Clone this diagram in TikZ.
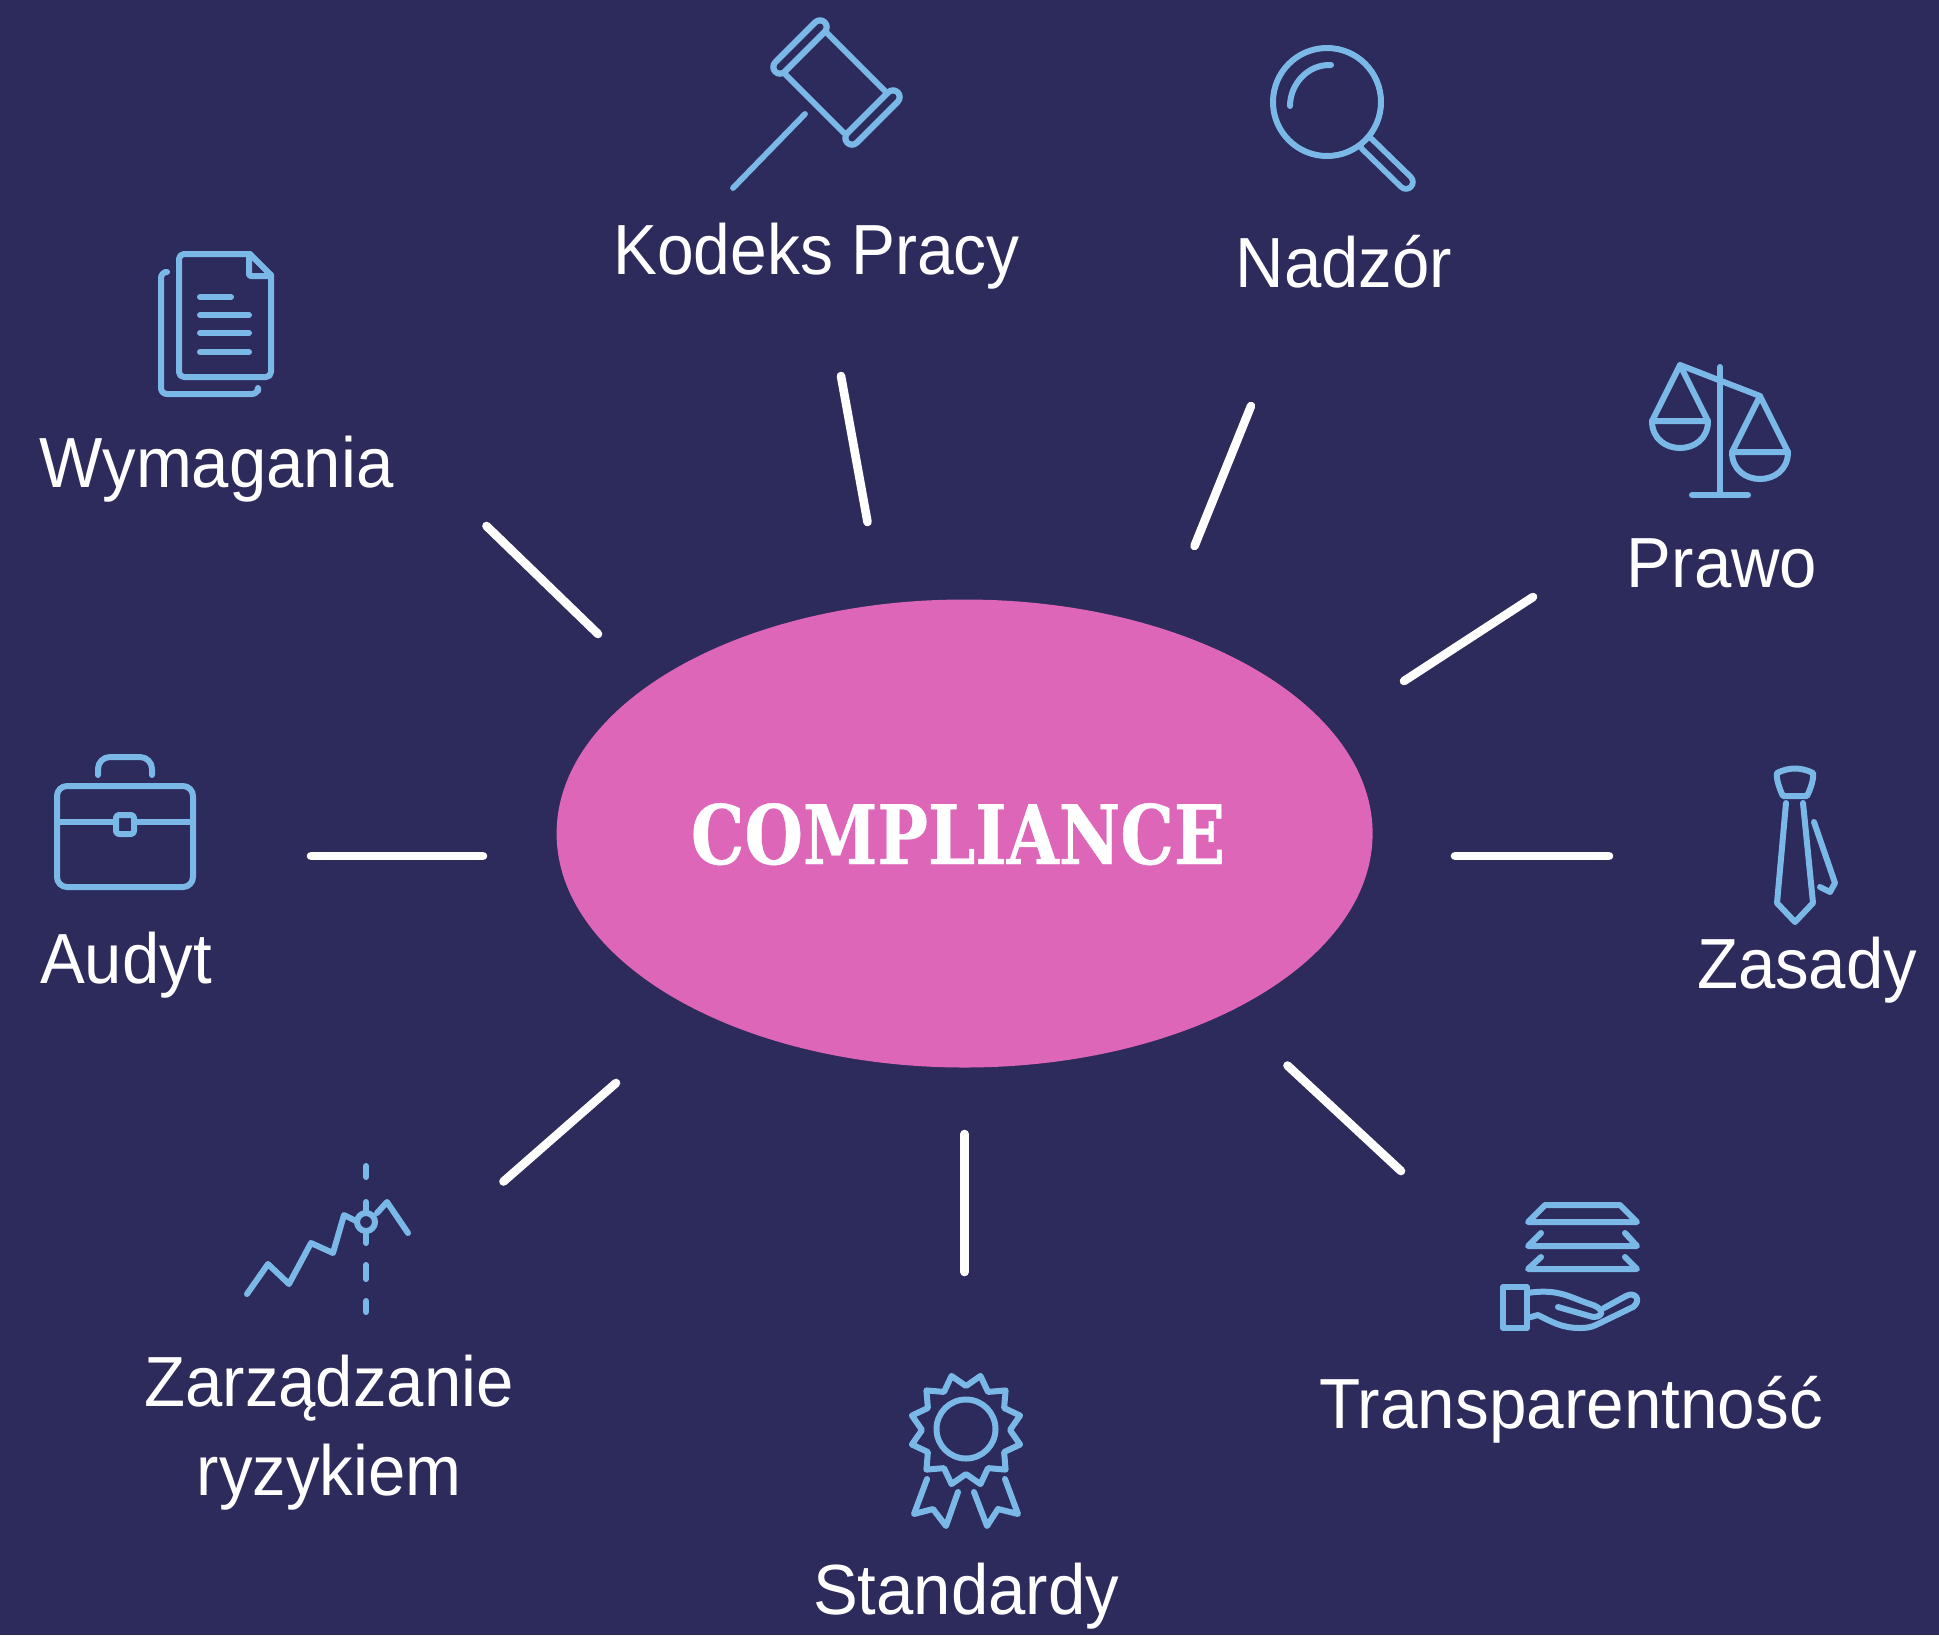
\documentclass[tikz,border=0pt]{standalone}
\usepackage{fontspec}
\usetikzlibrary{shapes.geometric}
\setmainfont[FakeStretch=0.945]{Liberation Sans}
\newfontfamily\kodfont[FakeStretch=0.928]{Liberation Sans}
\newfontfamily\trfont[FakeStretch=0.95]{Liberation Sans}
\newfontfamily\slabfont[FakeStretch=0.82,BoldFeatures={FakeBold=0.5}]{DejaVu Serif}
\definecolor{bgc}{HTML}{2D2A5C}
\definecolor{pinkc}{HTML}{DD66B8}
\definecolor{iconc}{HTML}{7AB8E8}
\tikzset{
  icon/.style={draw=iconc,line width=3pt,line cap=round,line join=round},
  thinicon/.style={icon,line width=2.9pt},
  spoke/.style={draw=white,line width=4.3pt,line cap=round},
  lab/.style={text=white,font=\fontsize{35.5pt}{42pt}\selectfont,anchor=base,inner sep=0pt},
}
\begin{document}
\begin{tikzpicture}[x=0.5pt,y=-0.5pt]
\useasboundingbox (0,0) rectangle (1939,1635);
\fill[bgc] (0,0) rectangle (1939,1635);

% centre
\node[ellipse,fill=pinkc,minimum width=408pt,minimum height=234pt,inner sep=0pt] (hub) at (964.6,833.5) {};
\node[text=white,inner sep=0pt,anchor=base,font=\slabfont\bfseries\fontsize{41pt}{50pt}\selectfont] (title) at (958,864) {COMPLIANCE};

% labels
\node[lab] (l1) at (816.5,274.5) {\kodfont Kodeks Pracy};
\node[lab] (l2) at (1344,287) {Nadzór};
\node[lab] (l3) at (216.5,487) {Wymagania};
\node[lab] (l4) at (1722,587) {Prawo};
\node[lab] (l5) at (126,983) {Audyt};
\node[lab] (l6) at (1807,988) {Zasady};
\node[lab] (l7) at (1571,1428) {\trfont Transparentność};
\node[lab] (l8) at (966,1614) {Standardy};
\node[lab] (l9) at (329,1406) {Zarządzanie};
\node[lab] (l10) at (329,1495) {ryzykiem};

% spokes
\coordinate (a1) at (486.5,526);    \coordinate (b1) at (598,634);
\coordinate (a2) at (841,376);    \coordinate (b2) at (867.5,522);
\coordinate (a3) at (1251,406);   \coordinate (b3) at (1194.5,546);
\coordinate (a4) at (1533,597);   \coordinate (b4) at (1404,681);
\coordinate (a5) at (1455,856);   \coordinate (b5) at (1609,856);
\coordinate (a6) at (1287.5,1065.5);  \coordinate (b6) at (1401,1171);
\coordinate (a7) at (964.6,1134); \coordinate (b7) at (964.6,1272);
\coordinate (a8) at (616,1083);   \coordinate (b8) at (503.5,1181.5);
\coordinate (a9) at (311,856);    \coordinate (b9) at (483,856);
\foreach \i in {1,...,9} \draw[spoke] (a\i) -- (b\i);

% gavel
\draw[thinicon] (805,114) -- (733,188);
\draw[thinicon] (827,33) -- (885.5,91.5);
\draw[thinicon] (785.5,74.5) -- (844,133);
\draw[iconc,line width=9.8pt,line cap=round] (820,27) -- (780,67);
\draw[bgc,line width=3.5pt,line cap=round] (820,27) -- (780,67);
\draw[iconc,line width=9.8pt,line cap=round] (893,97) -- (852,138);
\draw[bgc,line width=3.5pt,line cap=round] (893,97) -- (852,138);

% magnifier
\draw[iconc,line width=9.8pt,line cap=round] (1367,144) -- (1406,182);
\draw[bgc,line width=4pt,line cap=round] (1367,144) -- (1406,182);
\draw[icon,fill=bgc] (1327,102) circle[radius=27pt];
\draw[icon] (1331,65) .. controls (1308,64) and (1290,84) .. (1290,106);

% documents
\draw[icon,rounded corners=2.5pt] (250,254) -- (179,254) -- (179,377) -- (271,377) -- (271,275);
\draw[icon] (250,254) -- (271,275);
\draw[icon,rounded corners=1pt] (249,254) -- (249,276) -- (271,276);
\draw[icon] (200,297) -- (231,297);
\draw[icon] (200,315) -- (249,315);
\draw[icon] (200,333) -- (249,333);
\draw[icon] (200,352) -- (249,352);
\draw[icon,rounded corners=3pt] (165,272) -- (161,272) -- (161,394) -- (258,394) -- (258,391);

% scales
\draw[icon] (1680,365) -- (1760,396);
\draw[icon] (1720,367) -- (1720,495);
\draw[icon] (1692,495) -- (1748,495);
\draw[icon] (1652,421) -- (1680,365) -- (1708,421) -- cycle;
\draw[icon] (1652,421) .. controls (1652,457) and (1708,457) .. (1708,421);
\draw[icon] (1732,452) -- (1760,396) -- (1788,452) -- cycle;
\draw[icon] (1732,452) .. controls (1732,488) and (1788,488) .. (1788,452);

% tie
\draw[icon] (1777,773) .. controls (1789,767) and (1801,767) .. (1813,773) .. controls (1814,778) and (1811,788) .. (1807,796) -- (1783,796) .. controls (1779,788) and (1776,778) .. (1777,773) -- cycle;
\draw[icon] (1786,803) -- (1777,903) -- (1795,922) -- (1813,903) -- (1803,803);
\draw[icon] (1814,822) -- (1835,883) -- (1830,892) -- (1820,887);

% transparency
\draw[icon] (1545,1205) -- (1620,1205) -- (1637,1222) -- (1528,1222) -- cycle;
\draw[icon] (1541,1233) -- (1528,1246) -- (1637,1246) -- (1625,1233);
\draw[icon] (1541,1257) -- (1528,1269) -- (1637,1269) -- (1625,1257);
\draw[icon] (1503,1287) rectangle (1527,1328);
\draw[icon] (1527,1293) .. controls (1560,1288) and (1570,1298) .. (1593,1305) .. controls (1604,1309) and (1604,1317) .. (1593,1317) -- (1558,1307);
\draw[icon] (1527,1318) -- (1538,1315) .. controls (1552,1322) and (1562,1328) .. (1580,1328) .. controls (1590,1328) and (1594,1326) .. (1600,1323) -- (1633,1307) .. controls (1642,1300) and (1635,1291) .. (1626,1296) -- (1604,1308);

% rosette
\draw[icon] (966,1429) circle[radius=14.75pt];
\draw[icon] ([shift={(966,1430)}]0:44) \foreach \a in {15,45,...,345} { -- ([shift={(966,1430)}]\a:56) -- ([shift={(966,1430)}]\a+15:44) } -- cycle;
\draw[icon] (927,1479) -- (914,1514) -- (933,1509) -- (946,1526) -- (958,1492);
\draw[icon] (1005,1479) -- (1018,1514) -- (998,1509) -- (987,1526) -- (974,1492);

% risk chart
\draw[icon] (247,1294) -- (268,1264) -- (289,1284) -- (311,1243) -- (333,1253) -- (344,1215) -- (356,1221);
\draw[icon] (377,1213) -- (387,1202) -- (408,1233);
\draw[icon] (366,1166) -- (366,1177);
\draw[icon] (366,1202) -- (366,1211);
\draw[icon] (366,1233) -- (366,1243);
\draw[icon] (366,1265) -- (366,1279);
\draw[icon] (366,1301) -- (366,1312);
\draw[icon] (366,1222) circle[radius=4.5pt];

% briefcase
\draw[icon,rounded corners=5pt] (57,786) rectangle (193,887);
\draw[icon,line cap=butt] (57,822) -- (116,822);
\draw[icon,line cap=butt] (134,822) -- (193,822);
\draw[icon,rounded corners=1.5pt] (116,815) rectangle (134,834);
\draw[icon,rounded corners=6pt] (98,775) -- (98,757) -- (152,757) -- (152,775);
\end{tikzpicture}
\end{document}
